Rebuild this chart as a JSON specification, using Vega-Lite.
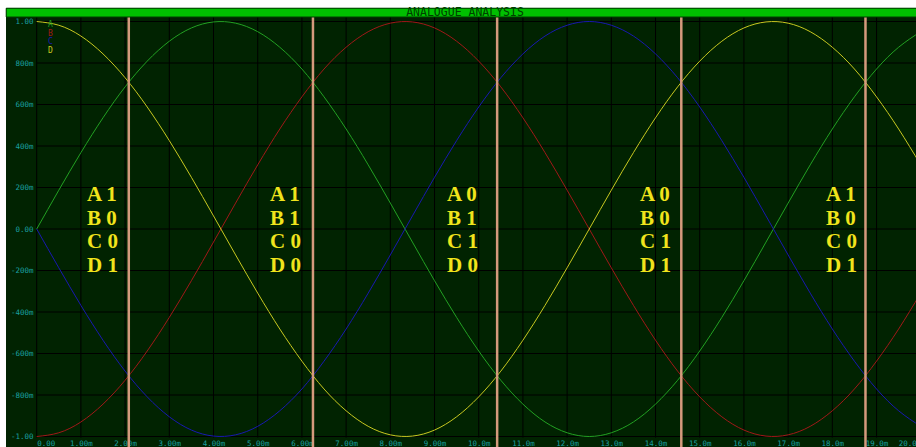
{
  "$schema": "https://vega.github.io/schema/vega-lite/v6.json",
  "autosize": {"type": "none"},
  "width": 915,
  "height": 439,
  "padding": {"left": 6, "top": 8, "right": 0, "bottom": 0},
  "background": "white",
  "config": {"view": {"fill": "#012301", "stroke": null}},
  "datasets": {
    "waves": [
      {"t": 0, "A": 0, "B": -1, "C": 0, "D": 1},
      {"t": 0.5, "A": 0.187, "B": -0.982, "C": -0.187, "D": 0.982},
      {"t": 1, "A": 0.368, "B": -0.93, "C": -0.368, "D": 0.93},
      {"t": 1.5, "A": 0.536, "B": -0.844, "C": -0.536, "D": 0.844},
      {"t": 2, "A": 0.685, "B": -0.729, "C": -0.685, "D": 0.729},
      {"t": 2.5, "A": 0.809, "B": -0.588, "C": -0.809, "D": 0.588},
      {"t": 3, "A": 0.905, "B": -0.426, "C": -0.905, "D": 0.426},
      {"t": 3.5, "A": 0.969, "B": -0.249, "C": -0.969, "D": 0.249},
      {"t": 4, "A": 0.998, "B": -0.063, "C": -0.998, "D": 0.063},
      {"t": 4.5, "A": 0.992, "B": 0.125, "C": -0.992, "D": -0.125},
      {"t": 5, "A": 0.951, "B": 0.309, "C": -0.951, "D": -0.309},
      {"t": 5.5, "A": 0.876, "B": 0.482, "C": -0.876, "D": -0.482},
      {"t": 6, "A": 0.771, "B": 0.637, "C": -0.771, "D": -0.637},
      {"t": 6.5, "A": 0.637, "B": 0.771, "C": -0.637, "D": -0.771},
      {"t": 7, "A": 0.482, "B": 0.876, "C": -0.482, "D": -0.876},
      {"t": 7.5, "A": 0.309, "B": 0.951, "C": -0.309, "D": -0.951},
      {"t": 8, "A": 0.125, "B": 0.992, "C": -0.125, "D": -0.992},
      {"t": 8.5, "A": -0.063, "B": 0.998, "C": 0.063, "D": -0.998},
      {"t": 9, "A": -0.249, "B": 0.969, "C": 0.249, "D": -0.969},
      {"t": 9.5, "A": -0.426, "B": 0.905, "C": 0.426, "D": -0.905},
      {"t": 10, "A": -0.588, "B": 0.809, "C": 0.588, "D": -0.809},
      {"t": 10.5, "A": -0.729, "B": 0.685, "C": 0.729, "D": -0.685},
      {"t": 11, "A": -0.844, "B": 0.536, "C": 0.844, "D": -0.536},
      {"t": 11.5, "A": -0.93, "B": 0.368, "C": 0.93, "D": -0.368},
      {"t": 12, "A": -0.982, "B": 0.187, "C": 0.982, "D": -0.187},
      {"t": 12.5, "A": -1, "B": 0, "C": 1, "D": 0},
      {"t": 13, "A": -0.982, "B": -0.187, "C": 0.982, "D": 0.187},
      {"t": 13.5, "A": -0.93, "B": -0.368, "C": 0.93, "D": 0.368},
      {"t": 14, "A": -0.844, "B": -0.536, "C": 0.844, "D": 0.536},
      {"t": 14.5, "A": -0.729, "B": -0.685, "C": 0.729, "D": 0.685},
      {"t": 15, "A": -0.588, "B": -0.809, "C": 0.588, "D": 0.809},
      {"t": 15.5, "A": -0.426, "B": -0.905, "C": 0.426, "D": 0.905},
      {"t": 16, "A": -0.249, "B": -0.969, "C": 0.249, "D": 0.969},
      {"t": 16.5, "A": -0.063, "B": -0.998, "C": 0.063, "D": 0.998},
      {"t": 17, "A": 0.125, "B": -0.992, "C": -0.125, "D": 0.992},
      {"t": 17.5, "A": 0.309, "B": -0.951, "C": -0.309, "D": 0.951},
      {"t": 18, "A": 0.482, "B": -0.876, "C": -0.482, "D": 0.876},
      {"t": 18.5, "A": 0.637, "B": -0.771, "C": -0.637, "D": 0.771},
      {"t": 19, "A": 0.771, "B": -0.637, "C": -0.771, "D": 0.637},
      {"t": 19.5, "A": 0.876, "B": -0.482, "C": -0.876, "D": 0.482},
      {"t": 20, "A": 0.951, "B": -0.309, "C": -0.951, "D": 0.309}
    ],
    "xgrid": [
      {"g": 0}, {"g": 1}, {"g": 2}, {"g": 3}, {"g": 4}, {"g": 5}, {"g": 6}, {"g": 7},
      {"g": 8}, {"g": 9}, {"g": 10}, {"g": 11}, {"g": 12}, {"g": 13}, {"g": 14},
      {"g": 15}, {"g": 16}, {"g": 17}, {"g": 18}, {"g": 19}, {"g": 20}
    ],
    "ygrid": [
      {"g": -1}, {"g": -0.8}, {"g": -0.6}, {"g": -0.4}, {"g": -0.2}, {"g": 0},
      {"g": 0.2}, {"g": 0.4}, {"g": 0.6}, {"g": 0.8}, {"g": 1}
    ],
    "cursors": [
      {"t": 2.083}, {"t": 6.25}, {"t": 10.417}, {"t": 14.583}, {"t": 18.75}
    ],
    "states": [
      {"t": 1.137, "v": 0.164, "label": "A 1\nB 0\nC 0\nD 1"},
      {"t": 5.278, "v": 0.164, "label": "A 1\nB 1\nC 0\nD 0"},
      {"t": 9.283, "v": 0.164, "label": "A 0\nB 1\nC 1\nD 0"},
      {"t": 13.649, "v": 0.164, "label": "A 0\nB 0\nC 1\nD 1"},
      {"t": 17.857, "v": 0.164, "label": "A 1\nB 0\nC 0\nD 1"}
    ]
  },
  "layer": [
    {
      "data": {"name": "xgrid"},
      "mark": {"type": "rule", "color": "#000000", "strokeWidth": 1},
      "encoding": {
        "x": {"field": "g", "type": "quantitative", "title": null, "scale": {"domain": [-0.6946, 20.006], "nice": false, "zero": false}},
        "y": {"datum": -1.005, "type": "quantitative", "title": null, "scale": {"domain": [-1.0506, 1.0651], "nice": false, "zero": false}},
        "y2": {"datum": 1.05}
      }
    },
    {
      "data": {"name": "ygrid"},
      "mark": {"type": "rule", "color": "#000000", "strokeWidth": 1},
      "encoding": {
        "y": {"field": "g", "type": "quantitative", "title": null, "scale": {"domain": [-1.0506, 1.0651], "nice": false, "zero": false}},
        "x": {"datum": 0, "type": "quantitative", "title": null, "scale": {"domain": [-0.6946, 20.006], "nice": false, "zero": false}},
        "x2": {"datum": 20.1}
      }
    },
    {
      "data": {"name": "waves"},
      "transform": [{"fold": ["A", "B", "C", "D"], "as": ["series", "v"]}],
      "mark": {"type": "line", "strokeWidth": 1, "interpolate": "natural"},
      "encoding": {
        "x": {
          "field": "t", "type": "quantitative", "title": null,
          "scale": {"domain": [-0.6946, 20.006], "nice": false, "zero": false},
          "axis": {
            "values": [0, 1, 2, 3, 4, 5, 6, 7, 8, 9, 10, 11, 12, 13, 14, 15, 16, 17, 18, 19, 20],
            "labelExpr": "datum.value == 0 ? '0.00' : datum.value < 10 ? format(datum.value, '.2f') + 'm' : format(datum.value, '.1f') + 'm'",
            "labelAlign": {"expr": "datum.value == 0 ? 'left' : datum.value == 20 ? 'right' : 'center'"},
            "grid": false, "ticks": false, "tickSize": 0, "domain": false,
            "labelColor": "#1aa0a0", "labelFont": "DejaVu Sans Mono", "labelFontSize": 7.5,
            "labelPadding": 1, "labelBaseline": "top", "offset": -9,
            "labelFlush": false, "labelOverlap": false, "labelBound": false
          }
        },
        "y": {
          "field": "v", "type": "quantitative", "title": null,
          "scale": {"domain": [-1.0506, 1.0651], "nice": false, "zero": false},
          "axis": {
            "values": [-1, -0.8, -0.6, -0.4, -0.2, 0, 0.2, 0.4, 0.6, 0.8, 1],
            "labelExpr": "datum.value == 0 ? '0.00' : (datum.value < 0 ? '-' : '') + (abs(datum.value) > 0.999 ? '1.00' : format(round(abs(datum.value) * 1000), 'd') + 'm')",
            "grid": false, "ticks": false, "tickSize": 0, "domain": false,
            "labelColor": "#1aa0a0", "labelFont": "DejaVu Sans Mono", "labelFontSize": 7.5,
            "labelPadding": 3.7, "labelBaseline": "middle", "labelAlign": "right", "offset": -30.7,
            "labelFlush": false, "labelOverlap": false, "labelBound": false
          }
        },
        "color": {
          "field": "series", "type": "nominal",
          "scale": {"domain": ["A", "B", "C", "D"], "range": ["#22a022", "#a01818", "#1818b0", "#c8c820"]},
          "legend": {
            "orient": "none", "legendX": 34, "legendY": 13, "title": null,
            "symbolSize": 0, "symbolStrokeWidth": 0, "symbolOpacity": 0, "labelOffset": 0,
            "labelFont": "DejaVu Sans Mono", "labelFontSize": 8, "rowPadding": 0.5, "padding": 0,
            "encode": {"labels": {"update": {"fill": {"scale": "color", "field": "value"}}}}
          }
        }
      }
    },
    {
      "data": {"name": "cursors"},
      "mark": {"type": "rule", "color": "#d49a7c", "strokeWidth": 2.5},
      "encoding": {
        "x": {"field": "t", "type": "quantitative", "title": null, "scale": {"domain": [-0.6946, 20.006], "nice": false, "zero": false}},
        "y": {"datum": -1.0506, "type": "quantitative", "title": null, "scale": {"domain": [-1.0506, 1.0651], "nice": false, "zero": false}},
        "y2": {"datum": 1.03}
      }
    },
    {
      "data": {"name": "states"},
      "mark": {"type": "text", "align": "left", "baseline": "middle", "lineBreak": "\n", "lineHeight": 23.7, "font": "Liberation Serif", "fontWeight": "bold", "fontSize": 21, "color": "#f0e41c"},
      "encoding": {
        "x": {"field": "t", "type": "quantitative", "title": null, "scale": {"domain": [-0.6946, 20.006], "nice": false, "zero": false}},
        "y": {"field": "v", "type": "quantitative", "title": null, "scale": {"domain": [-1.0506, 1.0651], "nice": false, "zero": false}},
        "text": {"field": "label"}
      }
    },
    {
      "data": {"values": [{}]},
      "mark": {"type": "rect", "color": "#00c000", "stroke": "#004000", "strokeWidth": 1},
      "encoding": {
        "x": {"datum": -0.69, "type": "quantitative", "title": null, "scale": {"domain": [-0.6946, 20.006], "nice": false, "zero": false}},
        "x2": {"datum": 20.2},
        "y": {"datum": 1.0217, "type": "quantitative", "title": null, "scale": {"domain": [-1.0506, 1.0651], "nice": false, "zero": false}},
        "y2": {"datum": 1.064}
      }
    },
    {
      "data": {"values": [{}]},
      "mark": {"type": "text", "text": "ANALOGUE ANALYSIS", "align": "center", "baseline": "middle", "font": "DejaVu Sans Mono", "fontSize": 11.5, "color": "#004000"},
      "encoding": {
        "x": {"datum": 9.69, "type": "quantitative", "title": null, "scale": {"domain": [-0.6946, 20.006], "nice": false, "zero": false}},
        "y": {"datum": 1.043, "type": "quantitative", "title": null, "scale": {"domain": [-1.0506, 1.0651], "nice": false, "zero": false}}
      }
    }
  ]
}
